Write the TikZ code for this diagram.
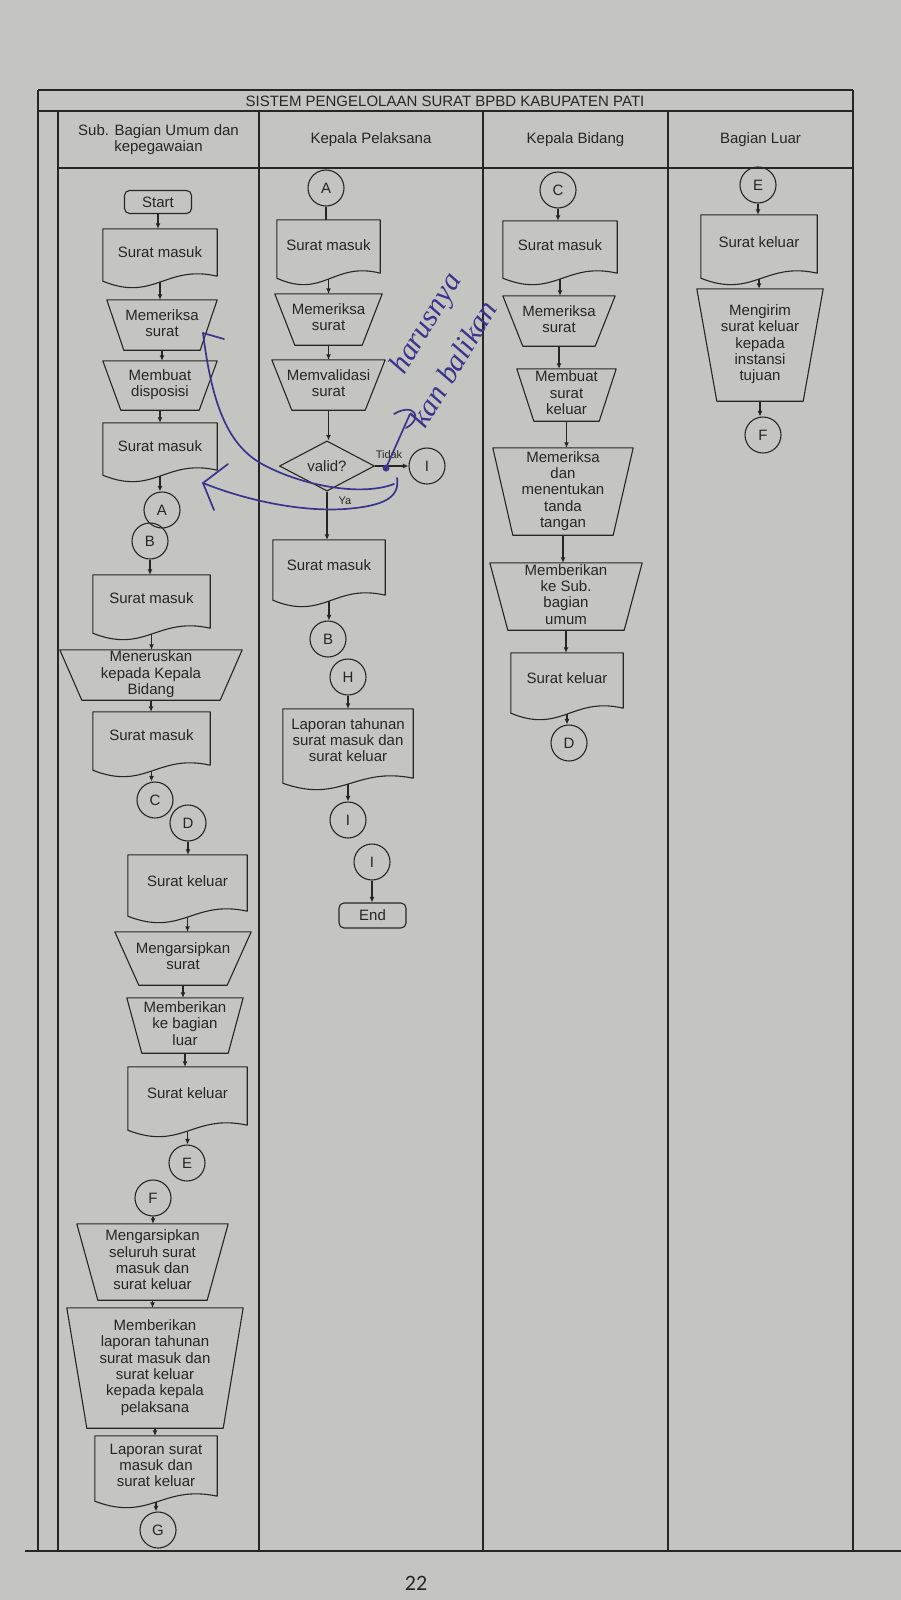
\documentclass[tikz,border=0pt]{standalone}
\usepackage{fontspec}
\setmainfont{Liberation Sans}
\newfontfamily\pagenumfont{Carlito}
\newfontfamily\handfont{Liberation Serif}
\usetikzlibrary{arrows.meta,calc,shapes.geometric}
\definecolor{bg}{RGB}{196,197,192}
\definecolor{ink}{RGB}{38,38,38}
\definecolor{pen}{RGB}{58,52,140}
\newcommand\ml[1]{\begin{tabular}[t]{@{}c@{}}#1\end{tabular}}
\newcommand\mc[1]{\begin{tabular}{@{}c@{}}#1\end{tabular}}
\newcommand\docshape[1]{\draw[shp] (#1.north west) -- (#1.north east) -- ($(#1.south east)+(0,-12)$)
  .. controls ($(#1.south west)!0.55!(#1.south east)+(0,-24)$) and ($(#1.south west)!0.45!(#1.south east)+(0,14)$)
  .. ($(#1.south west)+(0,-7)$) -- cycle;}
\newcommand\trapshape[2]{\draw[shp] (#1.north west) -- (#1.north east) -- ($(#1.south east)+(-#2,0)$) -- ($(#1.south west)+(#2,0)$) -- cycle;}
% name, cx, cy, w, text height, text depth, text
\newcommand\mydoc[7]{\node[dbox, minimum width=#4pt, text height=#5pt, text depth=#6pt] (#1) at (#2,#3) {\ml{#7}};\docshape{#1}}
% name, cx, cy, w, h, inset, text
\newcommand\mytrap[7]{\node[tbox, minimum width=#4pt, minimum height=#5pt] (#1) at (#2,#3) {\mc{#7}};\trapshape{#1}{#6}}
\newcommand\vdn[2]{\draw[arr] (#1.south) -- (#1.south |- #2.north);}
\newcommand\vdoc[2]{\draw[arr] ([yshift=6pt]#1.south) -- (#1.south |- #2.north);}
\begin{document}
\begin{tikzpicture}[x=1pt,y=-1pt,
  every node/.style={text=ink, font=\fontsize{15}{16.3}\selectfont},
  shp/.style={draw=ink, line width=1.1pt, line join=round},
  dbox/.style={inner sep=0pt, minimum height=0pt},
  tbox/.style={inner sep=0pt},
  conn/.style={circle, draw=ink, line width=1.1pt, minimum size=36pt, inner sep=0pt},
  term/.style={draw=ink, line width=1.1pt, rounded corners=5pt, inner sep=0pt},
  arr/.style={draw=ink, line width=1.1pt, -{Latex[length=5.5pt,width=5pt]}},
  lnk/.style={draw=ink, line width=1.1pt},
  frame/.style={draw=ink, line width=1.3pt},
  lbl/.style={font=\fontsize{11}{12}\selectfont},
  hand/.style={draw=pen, line width=1.7pt, line cap=round, line join=round},
  hw/.style={text=pen, inner sep=0pt, font=\handfont\itshape\fontsize{30}{46}\selectfont}]
\useasboundingbox (0,0) rectangle (901,1600);
\fill[bg] (0,0) rectangle (901,1600);

% ---------- frame ----------
\draw[frame] (38,90) -- (853,90);
\draw[frame] (38,90) -- (38,1551);
\draw[frame] (853,90) -- (853,1551);
\draw[frame] (38,111) -- (853,111);
\draw[frame] (58,111) -- (58,1551);
\draw[frame] (58,168) -- (853,168);
\draw[frame] (259,111) -- (259,1551);
\draw[frame] (483,111) -- (483,1551);
\draw[frame] (668,111) -- (668,1551);
\draw[frame] (25,1551) -- (901,1551);

\node (title) at (445,101) {SISTEM PENGELOLAAN SURAT BPBD KABUPATEN PATI};
\node (h1t) at (158.5,140) {\mc{Sub. Bagian Umum dan\\kepegawaian}};
\node (h2t) at (371,140) {Kepala Pelaksana};
\node (h3t) at (575.5,140) {Kepala Bidang};
\node (h4t) at (760.5,140) {Bagian Luar};

% ---------- lane 1 ----------
\node[term, minimum width=67pt, minimum height=23pt] (st) at (158,202) {Start};
\mydoc{d1}{160}{258.5}{114}{28}{31}{Surat masuk}
\mytrap{m1}{162}{325}{110}{50}{17}{Memeriksa\\surat}
\mytrap{m2}{160}{385.5}{114}{49}{18}{Membuat\\disposisi}
\mydoc{d2}{160}{452.5}{114}{28}{31}{Surat masuk}
\node[conn] (cA1) at (162,510) {A};
\node[conn] (cB1) at (150,541) {B};
\mydoc{d3}{151.5}{607.5}{117}{28}{37}{Surat masuk}
\mytrap{m3}{151}{675}{182}{50}{22}{Meneruskan\\kepada Kepala\\Bidang}
\mydoc{d4}{151.5}{744.5}{117}{28}{37}{Surat masuk}
\node[conn] (cC1) at (155,800) {C};
\node[conn] (cD1) at (188,823) {D};
\mydoc{d5}{187.5}{889}{119}{31}{37}{Surat keluar}
\mytrap{m4}{183}{958.5}{136}{53}{24}{Mengarsipkan\\surat}
\mytrap{m5}{185}{1025.5}{116}{55}{15}{Memberikan\\ke bagian\\luar}
\mydoc{d6}{187.5}{1102}{119}{31}{39}{Surat keluar}
\node[conn] (cE1) at (187,1163) {E};
\node[conn] (cF1) at (153,1198) {F};
\mytrap{m6}{152.5}{1262}{151}{76}{21}{Mengarsipkan\\seluruh surat\\masuk dan\\surat keluar}
\mytrap{m7}{155}{1368}{176}{120}{20}{Memberikan\\laporan tahunan\\surat masuk dan\\surat keluar\\kepada kepala\\pelaksana}
\mydoc{d7}{156}{1472}{122}{18}{54}{Laporan surat\\masuk dan\\surat keluar}
\node[conn] (cG1) at (158,1530) {G};

\vdn{st}{d1}
\vdoc{d1}{m1}
\vdn{m1}{m2}
\vdn{m2}{d2}
\vdoc{d2}{cA1}
\vdn{cB1}{d3}
\vdoc{d3}{m3}
\vdn{m3}{d4}
\vdoc{d4}{cC1}
\vdn{cD1}{d5}
\vdoc{d5}{m4}
\vdn{m4}{m5}
\vdn{m5}{d6}
\vdoc{d6}{cE1}
\vdn{cF1}{m6}
\vdn{m6}{m7}
\vdn{m7}{d7}
\vdoc{d7}{cG1}

% ---------- lane 2 ----------
\node[conn] (cA2) at (326,188) {A};
\mydoc{e1}{328.5}{252.5}{103}{30}{35}{Surat masuk}
\mytrap{n1}{328.5}{319.5}{107}{51}{20}{Memeriksa\\surat}
\mytrap{n2}{328.5}{385}{113}{50}{20}{Memvalidasi\\surat}
\node[diamond, draw=ink, line width=1.1pt, minimum width=95pt, minimum height=45pt, inner sep=0pt] (valid) at (327,466) {valid?};
\node[conn] (cI1) at (427,466) {I};
\node[lbl] (tidak) at (389,455) {Tidak};
\node[lbl] (ya) at (345,501) {Ya};
\mydoc{e2}{329}{573.5}{112}{30}{37}{Surat masuk}
\node[conn] (cB2) at (328,639) {B};
\node[conn] (cH2) at (348,677) {H};
\mydoc{e3}{348}{749.5}{130}{20}{61}{Laporan tahunan\\surat masuk dan\\surat keluar}
\node[conn] (cI2) at (348,820) {I};
\node[conn] (cI3) at (372,862) {I};
\node[term, minimum width=67pt, minimum height=25pt] (en) at (372.5,915.5) {End};

\draw[lnk] (cA2.south) -- (cA2.south |- e1.north);
\vdoc{e1}{n1}
\vdn{n1}{n2}
\vdn{n2}{valid}
\draw[arr] (valid.east) -- (cI1.west);
\vdn{valid}{e2}
\vdoc{e2}{cB2}
\vdn{cH2}{e3}
\vdoc{e3}{cI2}
\vdn{cI3}{en}

% ---------- lane 3 ----------
\node[conn] (cC3) at (558,190) {C};
\mydoc{f1}{560}{253}{114}{29}{35}{Surat masuk}
\mytrap{g1}{559}{321}{112}{50}{20}{Memeriksa\\surat}
\mytrap{g2}{566.5}{395}{99}{52}{17}{Membuat\\surat\\keluar}
\mytrap{g3}{563}{491.5}{140}{87}{20}{Memeriksa\\dan\\menentukan\\tanda\\tangan}
\mytrap{g4}{566}{596.5}{152}{67}{18}{Memberikan\\ke Sub.\\bagian\\umum}
\mydoc{f2}{567}{686.5}{112}{30}{37}{Surat keluar}
\node[conn] (cD3) at (569,743) {D};

\vdn{cC3}{f1}
\vdoc{f1}{g1}
\vdn{g1}{g2}
\vdn{g2}{g3}
\vdn{g3}{g4}
\vdn{g4}{f2}
\vdoc{f2}{cD3}

% ---------- lane 4 ----------
\node[conn] (cE4) at (758,185) {E};
\mydoc{k1}{759}{250}{116}{32}{38}{Surat keluar}
\mytrap{k2}{760}{345}{126}{112}{20}{Mengirim\\surat keluar\\kepada\\instansi\\tujuan}
\node[conn] (cF4) at (763,435) {F};

\vdn{cE4}{k1}
\vdoc{k1}{k2}
\vdn{k2}{cF4}

% ---------- handwritten annotation ----------
\draw[hand] (203,333) .. controls (212,405) and (228,445) .. (262,464) .. controls (300,485) and (360,497) .. (394,484);
\draw[hand] (203,333) -- (224,339);
\draw[hand] (203,483) .. controls (245,500) and (300,512) .. (345,509) .. controls (385,506) and (400,497) .. (397,478);
\draw[hand] (228,464) -- (203,483) -- (214,510);
\fill[pen] (386,468) circle (3.5pt);
\draw[hand] (386,468) -- (410,414);
\draw[hand] (394,414) .. controls (414,402) and (424,418) .. (406,428);
\node[hw, rotate=59] (hw) at (436,350) {\begin{tabular}{@{}l@{}}\hspace*{35pt}harusnya\\kan balikan\end{tabular}};

\node[font=\pagenumfont\fontsize{22}{24}\selectfont] (pg) at (416,1583) {22};
\end{tikzpicture}
\end{document}
